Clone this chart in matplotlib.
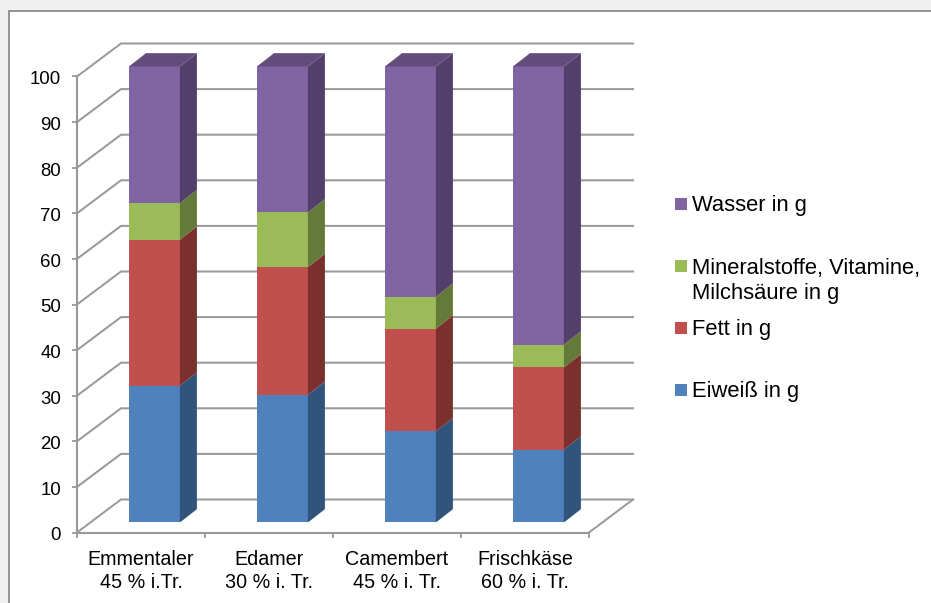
import matplotlib
matplotlib.use("Agg")
import matplotlib.pyplot as plt
import numpy as np
from matplotlib.patches import Polygon, Rectangle
from matplotlib.transforms import ScaledTranslation

plt.rcParams['font.family'] = ['Liberation Sans', 'DejaVu Sans']

# data
cheeses = ['Emmentaler\n45 % i.Tr.', 'Edamer\n30 % i. Tr.', 'Camembert\n45 % i. Tr.', 'Frischkäse\n60 % i. Tr.']
eiweiss = [30, 28, 20, 16]
fett = [32, 28, 22.5, 18]
mineral = [8, 12, 7, 5]
wasser = [30, 32, 50.5, 61]
y_ticks = [0, 10, 20, 30, 40, 50, 60, 70, 80, 90, 100]

legend_labels = ['Wasser in g', 'Mineralstoffe, Vitamine,\nMilchsäure in g', 'Fett in g', 'Eiweiß in g']

# front, side, top shades of each series
blue = ('#4F81BD', '#31547D', '#3B618F')
red = ('#C0504D', '#7C302E', '#94403E')
green = ('#9BBB59', '#647A38', '#769045')
purple = ('#8064A2', '#523F6A', '#624C7C')
series = [(eiweiss, blue), (fett, red), (mineral, green), (wasser, purple)]

W, H = 931, 603
grid_col = '#999999'

fig = plt.figure(figsize=(W / 100, H / 100), dpi=100, facecolor='#F0F0F0')
# chart area frame runs off the right and bottom edge
fig.patches.append(Rectangle((9 / W, 0 - 10 / H), (W + 20) / W, (H - 1) / H, transform=fig.transFigure,
                             facecolor='white', edgecolor='#8C8C8C', linewidth=1.3, zorder=-1))

ax = fig.add_axes([77 / W, (H - 532.5) / H, 512 / W, 456 / H])
ax.patch.set_visible(False)
ax.set_xlim(0, 4)
ax.set_ylim(0, 100)

# 3d look: wall sits behind the front plane, bars somewhere between
wall_dx, wall_dy = 44 / 128, 33 / 4.56
bar_off, bar_lift = 0.105, 2.2
bar_dx, bar_dy = 17 / 128, 13.3 / 4.56
bar_w = 0.398

for t in y_ticks:
    ax.plot([0, wall_dx, 4 + wall_dx], [t, t + wall_dy, t + wall_dy], color=grid_col, lw=1.45,
            clip_on=False, zorder=1, solid_joinstyle='miter')
ax.plot([4, 4 + wall_dx], [0, wall_dy], color=grid_col, lw=1.45, clip_on=False, zorder=1)

for i in range(len(cheeses)):
    x0 = i + 0.5 - bar_w / 2 + bar_off
    x1 = x0 + bar_w
    bottom = bar_lift
    for values, shades in series:
        top = bottom + values[i]
        ax.bar(x0, values[i], bar_w, bottom=bottom, align='edge', color=shades[0], zorder=3, clip_on=False)
        ax.add_patch(Polygon([(x1, bottom), (x1 + bar_dx, bottom + bar_dy), (x1 + bar_dx, top + bar_dy), (x1, top)],
                             facecolor=shades[1], edgecolor='none', zorder=3, clip_on=False))
        bottom = top
    ax.add_patch(Polygon([(x0, bottom), (x0 + bar_dx, bottom + bar_dy), (x1 + bar_dx, bottom + bar_dy), (x1, bottom)],
                         facecolor=purple[2], edgecolor='none', zorder=3, clip_on=False))

# axes
for s in ['top', 'right']:
    ax.spines[s].set_visible(False)
for s in ['left', 'bottom']:
    ax.spines[s].set_color(grid_col)
    ax.spines[s].set_linewidth(1.5)
    ax.spines[s].set_zorder(2)

ax.set_yticks(y_ticks)
ax.tick_params(axis='y', length=3.6, width=1.3, color=grid_col, pad=8, labelsize=13.4, labelcolor='black')
# y labels sit a little below their ticks in the original
shift = ScaledTranslation(0, -1.5 / 100, fig.dpi_scale_trans)
for lbl in ax.get_yticklabels():
    lbl.set_transform(lbl.get_transform() + shift)

# tick marks between the categories, labels in the middle
ax.set_xticks(range(5))
ax.set_xticklabels([])
ax.set_xticks(np.arange(len(cheeses)) + 0.5, minor=True)
ax.set_xticklabels(cheeses, minor=True, linespacing=1.32)
ax.tick_params(axis='x', which='major', length=3.6, width=1.3, color=grid_col)
ax.tick_params(axis='x', which='minor', length=0, pad=12.3, labelsize=14.2, labelcolor='black')

# legend by hand, the spacing is uneven because of the two line entry
legend_cols = [purple[0], green[0], red[0], blue[0]]
legend_y = [210, 272, 334, 396]
for label, col, y in zip(legend_labels, legend_cols, legend_y):
    fig.patches.append(Rectangle((675 / W, (H - y) / H), 12 / W, 12 / H, transform=fig.transFigure,
                                 facecolor=col, edgecolor='none', zorder=3))
    # baseline alignment takes the last line, so push two line entries down
    y_text = y + 1 + 26 * label.count('\n')
    fig.text(692 / W, (H - y_text) / H, label, fontsize=15.8, color='black', va='baseline', ha='left', linespacing=1.22)

fig.savefig('out.png', dpi=100, facecolor=fig.get_facecolor())
